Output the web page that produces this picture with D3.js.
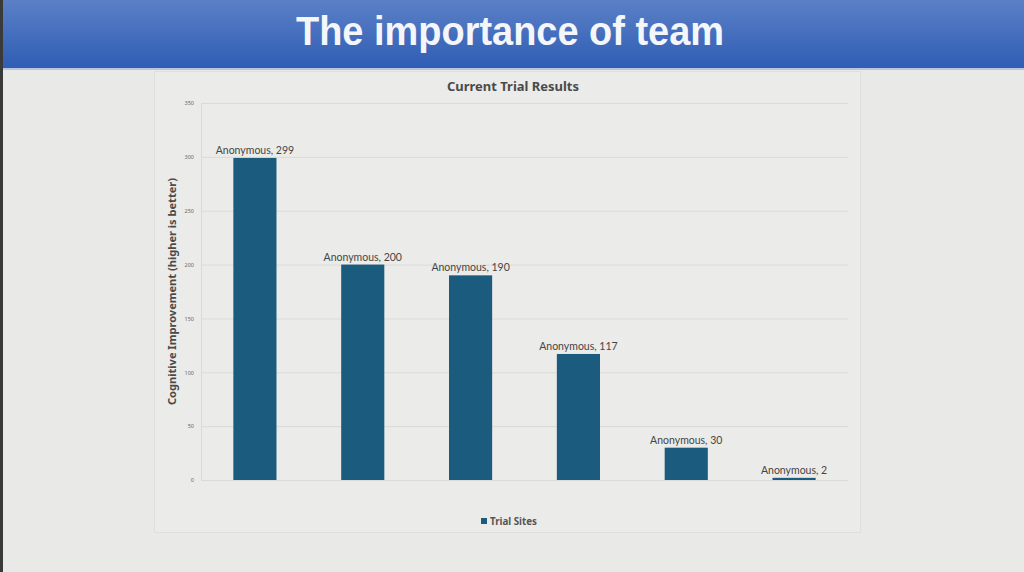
<!DOCTYPE html>
<html>
<head>
<meta charset="utf-8">
<script src="https://cdn.jsdelivr.net/npm/d3@7"></script>
<style>
  html, body { margin: 0; padding: 0; background: #e9e9e7; }
  svg { display: block; }
</style>
</head>
<body>
<svg id="chart" width="1024" height="572"></svg>
<script>
// chart values
var sites = ["Site 1", "Site 2", "Site 3", "Site 4", "Site 5", "Site 6"];
var siteNames = ["Anonymous", "Anonymous", "Anonymous", "Anonymous", "Anonymous", "Anonymous"];
var improvement = [299, 200, 190, 117, 30, 2];
var yTicks = [0, 50, 100, 150, 200, 250, 300, 350];

var pageTitle = "The importance of team";
var chartTitle = "Current Trial Results";
var yLabel = "Cognitive Improvement (higher is better)";
var legendLabel = "Trial Sites";

var data = sites.map(function(s, i) {
    return {site: s, name: siteNames[i], value: improvement[i]};
});

var width = 1024, height = 572,
    margin = {top: 103, right: 176, bottom: 92, left: 201};

var svg = d3.select("#chart");

// header band with gradient
var defs = svg.append("defs");
var grad = defs.append("linearGradient").attr("id", "hdr")
    .attr("x1", 0).attr("y1", 0).attr("x2", 0).attr("y2", 1);
grad.append("stop").attr("offset", "0%").attr("stop-color", "#5b80c6");
grad.append("stop").attr("offset", "100%").attr("stop-color", "#2f5eb4");

svg.append("rect").attr("x", 0).attr("y", 0).attr("width", width).attr("height", 68)
    .attr("fill", "url(#hdr)");
svg.append("rect").attr("x", 0).attr("y", 68).attr("width", width).attr("height", 2)
    .attr("fill", "#b7c6df");
svg.append("rect").attr("x", 0).attr("y", 0).attr("width", 3).attr("height", height)
    .attr("fill", "#3a3a3a");

svg.append("text")
    .attr("x", 510).attr("y", 45)
    .attr("text-anchor", "middle")
    .attr("font-family", "Liberation Sans, Arial, sans-serif")
    .attr("font-weight", "bold")
    .attr("font-size", 40)
    .attr("textLength", 428).attr("lengthAdjust", "spacingAndGlyphs")
    .attr("fill", "#f4f6fa")
    .text(pageTitle);

// chart box
svg.append("rect")
    .attr("x", 154.5).attr("y", 71.5).attr("width", 706).attr("height", 461)
    .attr("fill", "#ebebe9").attr("stroke", "#dfdfdc");

var scX = d3.scaleBand()
    .domain(sites)
    .range([margin.left, width - margin.right])
    .paddingInner(0.6).paddingOuter(0.3);

var scY = d3.scaleLinear()
    .domain([0, 350])
    .range([height - margin.bottom, margin.top]);

// gridlines
svg.append("g").attr("id", "grid")
    .selectAll("line")
    .data(yTicks).enter()
    .append("line")
    .attr("x1", margin.left).attr("x2", width - margin.right)
    .attr("y1", d => scY(d) + 0.5).attr("y2", d => scY(d) + 0.5)
    .attr("stroke", "#dadad7").attr("stroke-width", 1);

// y axis ticks (labels only)
var yAxis = d3.axisLeft(scY).tickValues(yTicks).tickSize(0).tickPadding(7);
var gy = svg.append("g")
    .attr("transform", "translate(" + margin.left + ",0)")
    .call(yAxis);
gy.select(".domain").remove();
gy.selectAll("text")
    .attr("font-family", "Noto Sans, sans-serif")
    .attr("font-size", 5.5)
    .attr("fill", "#666");

// left axis line
svg.append("line")
    .attr("x1", margin.left + 0.5).attr("x2", margin.left + 0.5)
    .attr("y1", scY(350)).attr("y2", scY(0))
    .attr("stroke", "#dadad7");

// bars
svg.append("g").attr("id", "bars")
    .selectAll("rect")
    .data(data).enter()
    .append("rect")
    .attr("x", d => scX(d.site))
    .attr("width", scX.bandwidth())
    .attr("y", d => scY(d.value))
    .attr("height", d => scY(0) - scY(d.value))
    .attr("fill", "#1b5b7d");

// data labels
svg.append("g").attr("id", "labels")
    .selectAll("text")
    .data(data).enter()
    .append("text")
    .attr("x", d => scX(d.site) + scX.bandwidth() / 2)
    .attr("y", d => scY(d.value) - 4)
    .attr("text-anchor", "middle")
    .attr("font-family", "Lato, sans-serif")
    .attr("font-size", 10.5)
    .attr("fill", "#454545")
    .text(d => d.name + ", " + d.value);

// chart title
svg.append("text")
    .attr("x", 513).attr("y", 91)
    .attr("text-anchor", "middle")
    .attr("font-family", "Noto Sans, sans-serif")
    .attr("font-weight", "bold")
    .attr("font-size", 12.5)
    .attr("textLength", 132).attr("lengthAdjust", "spacingAndGlyphs")
    .attr("fill", "#4a4a4a")
    .text(chartTitle);

// y axis title
svg.append("text")
    .attr("transform", "translate(176," + scY(175) + ") rotate(-90)")
    .attr("text-anchor", "middle")
    .attr("font-family", "Noto Sans, sans-serif")
    .attr("font-weight", "bold")
    .attr("font-size", 10.5)
    .attr("textLength", 227).attr("lengthAdjust", "spacingAndGlyphs")
    .attr("fill", "#4a4a4a")
    .text(yLabel);

// legend
var lg = svg.append("g").attr("transform", "translate(481,518)");
lg.append("rect").attr("width", 6).attr("height", 6).attr("fill", "#1b5b7d");
lg.append("text")
    .attr("x", 9).attr("y", 6.5)
    .attr("font-family", "Noto Sans, sans-serif")
    .attr("font-weight", "bold")
    .attr("font-size", 10.5)
    .attr("textLength", 47).attr("lengthAdjust", "spacingAndGlyphs")
    .attr("fill", "#555")
    .text(legendLabel);
</script>
</body>
</html>
